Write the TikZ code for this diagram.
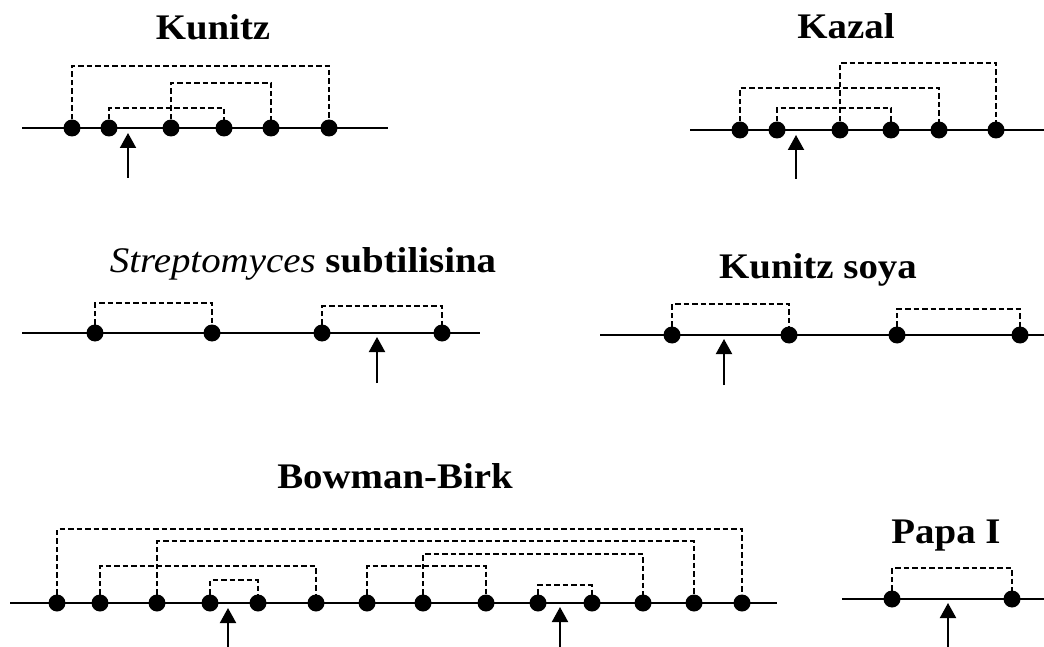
\documentclass[tikz,border=0pt]{standalone}
\usepackage{fontspec}
\setmainfont{Liberation Serif}
\usetikzlibrary{arrows.meta}
\newcommand{\ttl}[1]{\scalebox{1.08}[1]{\bfseries\fontsize{36}{40}\selectfont #1}}
\tikzset{
  x=1pt, y=-1pt,
  chain/.style={line width=2.2pt},
  dot/.style={circle, fill=black, inner sep=0pt, minimum size=17pt},
  bond/.style={line width=1.8pt, dash pattern=on 5.5pt off 3pt},
  cut/.style={line width=2pt, -{Triangle[width=16pt,length=15pt]}},
  title/.style={anchor=base, inner sep=0pt}
}
\begin{document}
\begin{tikzpicture}
\useasboundingbox (0,0) rectangle (1044,647);

% ---------- Kunitz ----------
\node[title] (tKunitz) at (213,40) {\ttl{Kunitz}};
\coordinate (kuL) at (22,128); \coordinate (kuR) at (388,128);
\draw[chain] (kuL) -- (kuR);
\foreach \i/\x in {1/72,2/109,3/171,4/224,5/271,6/329}
  \node[dot] (ku\i) at (\x,128) {};
\draw[bond] (ku1.center) -- (ku1.center |- 0,66) -- (ku6.center |- 0,66) -- (ku6.center);
\draw[bond] (ku3.center) -- (ku3.center |- 0,83) -- (ku5.center |- 0,83) -- (ku5.center);
\draw[bond] (ku2.center) -- (ku2.center |- 0,108) -- (ku4.center |- 0,108) -- (ku4.center);
\coordinate (kuA0) at (128,178); \coordinate (kuA1) at (128,133);
\draw[cut] (kuA0) -- (kuA1);

% ---------- Kazal ----------
\node[title] (tKazal) at (846,39) {\ttl{Kazal}};
\coordinate (kaL) at (690,130); \coordinate (kaR) at (1044,130);
\draw[chain] (kaL) -- (kaR);
\foreach \i/\x in {1/740,2/777,3/840,4/891,5/939,6/996}
  \node[dot] (ka\i) at (\x,130) {};
\draw[bond] (ka3.center) -- (ka3.center |- 0,63) -- (ka6.center |- 0,63) -- (ka6.center);
\draw[bond] (ka1.center) -- (ka1.center |- 0,88) -- (ka5.center |- 0,88) -- (ka5.center);
\draw[bond] (ka2.center) -- (ka2.center |- 0,108) -- (ka4.center |- 0,108) -- (ka4.center);
\coordinate (kaA0) at (796,179); \coordinate (kaA1) at (796,135);
\draw[cut] (kaA0) -- (kaA1);

% ---------- Streptomyces subtilisina ----------
\node[title] (tStrep) at (303,272) {\ttl{\textit{\mdseries Streptomyces} subtilisina}};
\coordinate (stL) at (22,333); \coordinate (stR) at (480,333);
\draw[chain] (stL) -- (stR);
\foreach \i/\x in {1/95,2/212,3/322,4/442}
  \node[dot] (st\i) at (\x,333) {};
\draw[bond] (st1.center) -- (st1.center |- 0,303) -- (st2.center |- 0,303) -- (st2.center);
\draw[bond] (st3.center) -- (st3.center |- 0,306) -- (st4.center |- 0,306) -- (st4.center);
\coordinate (stA0) at (377,383); \coordinate (stA1) at (377,337);
\draw[cut] (stA0) -- (stA1);

% ---------- Kunitz soya ----------
\node[title] (tSoya) at (818,278) {\ttl{Kunitz soya}};
\coordinate (soL) at (600,335); \coordinate (soR) at (1044,335);
\draw[chain] (soL) -- (soR);
\foreach \i/\x in {1/672,2/789,3/897,4/1020}
  \node[dot] (so\i) at (\x,335) {};
\draw[bond] (so1.center) -- (so1.center |- 0,304) -- (so2.center |- 0,304) -- (so2.center);
\draw[bond] (so3.center) -- (so3.center |- 0,309) -- (so4.center |- 0,309) -- (so4.center);
\coordinate (soA0) at (724,385); \coordinate (soA1) at (724,339);
\draw[cut] (soA0) -- (soA1);

% ---------- Bowman-Birk ----------
\node[title] (tBB) at (395,488) {\ttl{Bowman-Birk}};
\coordinate (bbL) at (10,603); \coordinate (bbR) at (777,603);
\draw[chain] (bbL) -- (bbR);
\foreach \i/\x in {1/57,2/100,3/157,4/210,5/258,6/316,7/367,8/423,9/486,10/538,11/592,12/643,13/694,14/742}
  \node[dot] (bb\i) at (\x,603) {};
\draw[bond] (bb1.center) -- (bb1.center |- 0,529) -- (bb14.center |- 0,529) -- (bb14.center);
\draw[bond] (bb3.center) -- (bb3.center |- 0,541) -- (bb13.center |- 0,541) -- (bb13.center);
\draw[bond] (bb8.center) -- (bb8.center |- 0,554) -- (bb12.center |- 0,554) -- (bb12.center);
\draw[bond] (bb2.center) -- (bb2.center |- 0,566) -- (bb6.center |- 0,566) -- (bb6.center);
\draw[bond] (bb7.center) -- (bb7.center |- 0,566) -- (bb9.center |- 0,566) -- (bb9.center);
\draw[bond] (bb4.center) -- (bb4.center |- 0,580) -- (bb5.center |- 0,580) -- (bb5.center);
\draw[bond] (bb10.center) -- (bb10.center |- 0,585) -- (bb11.center |- 0,585) -- (bb11.center);
\coordinate (bbA0) at (228,647); \coordinate (bbA1) at (228,608);
\draw[cut] (bbA0) -- (bbA1);
\coordinate (bbB0) at (560,647); \coordinate (bbB1) at (560,607);
\draw[cut] (bbB0) -- (bbB1);

% ---------- Papa I ----------
\node[title] (tPapa) at (946,543) {\ttl{Papa I}};
\coordinate (paL) at (842,599); \coordinate (paR) at (1044,599);
\draw[chain] (paL) -- (paR);
\foreach \i/\x in {1/892,2/1012}
  \node[dot] (pa\i) at (\x,599) {};
\draw[bond] (pa1.center) -- (pa1.center |- 0,568) -- (pa2.center |- 0,568) -- (pa2.center);
\coordinate (paA0) at (948,647); \coordinate (paA1) at (948,603);
\draw[cut] (paA0) -- (paA1);
\end{tikzpicture}
\end{document}
